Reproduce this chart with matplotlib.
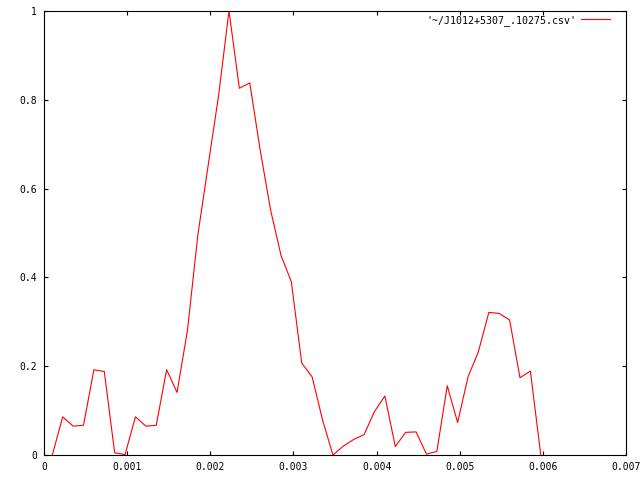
import matplotlib
matplotlib.use("Agg")
import matplotlib.pyplot as plt

# sample positions (s) and normalised profile
x_vals = [0.0001, 0.000225, 0.00035, 0.000475, 0.0006, 0.000725, 0.00085, 0.000975,
          0.0011, 0.001225, 0.00135, 0.001475, 0.0016, 0.001725, 0.00185, 0.001975,
          0.0021, 0.002225, 0.00235, 0.002475, 0.0026, 0.002725, 0.00285, 0.002975,
          0.0031, 0.003225, 0.00335, 0.003475, 0.0036, 0.003725, 0.00385, 0.003975,
          0.0041, 0.004225, 0.00435, 0.004475, 0.0046, 0.004725, 0.00485, 0.004975,
          0.0051, 0.005225, 0.00535, 0.005475, 0.0056, 0.005725, 0.00585, 0.005975]
y_vals = [0.0, 0.086, 0.065, 0.067, 0.192, 0.188, 0.005, 0.001,
          0.086, 0.065, 0.067, 0.192, 0.141, 0.28, 0.495, 0.653,
          0.81, 1.0, 0.826, 0.838, 0.687, 0.552, 0.45, 0.39,
          0.207, 0.176, 0.079, 0.0, 0.02, 0.035, 0.046, 0.098,
          0.133, 0.019, 0.051, 0.052, 0.002, 0.008, 0.156, 0.073,
          0.176, 0.233, 0.321, 0.319, 0.304, 0.174, 0.189, 0.0]

series_label = "'~/J1012+5307_.10275.csv'"
x_ticks = [0, 0.001, 0.002, 0.003, 0.004, 0.005, 0.006, 0.007]
x_ticklabels = ["0", "0.001", "0.002", "0.003", "0.004", "0.005", "0.006", "0.007"]
y_ticks = [0, 0.2, 0.4, 0.6, 0.8, 1]
y_ticklabels = ["0", "0.2", "0.4", "0.6", "0.8", "1"]

plt.rcParams['font.family'] = ['DejaVu Sans Mono']
plt.rcParams['font.size'] = 7

fig = plt.figure(figsize=(6.4, 4.8), dpi=100)
ax = fig.add_axes([44 / 640, 25 / 480, 582 / 640, 444 / 480])

ax.plot(x_vals, y_vals, color='red', linewidth=0.8, label=series_label)

ax.set_xlim(0, 0.007)
ax.set_ylim(0, 1)
ax.set_xticks(x_ticks)
ax.set_xticklabels(x_ticklabels)
ax.set_yticks(y_ticks)
ax.set_yticklabels(y_ticklabels)
ax.tick_params(direction='in', length=3, width=0.8, top=True, right=True, pad=5)
for sp in ax.spines.values():
    sp.set_linewidth(0.8)

ax.legend(loc='upper right', bbox_to_anchor=(1 - 9 / 582, 1 + 3 / 444), frameon=False,
          markerfirst=False, handlelength=2.9, handletextpad=0.45,
          borderaxespad=0.3, prop={'size': 7.2})

fig.savefig("out.png", dpi=100)
